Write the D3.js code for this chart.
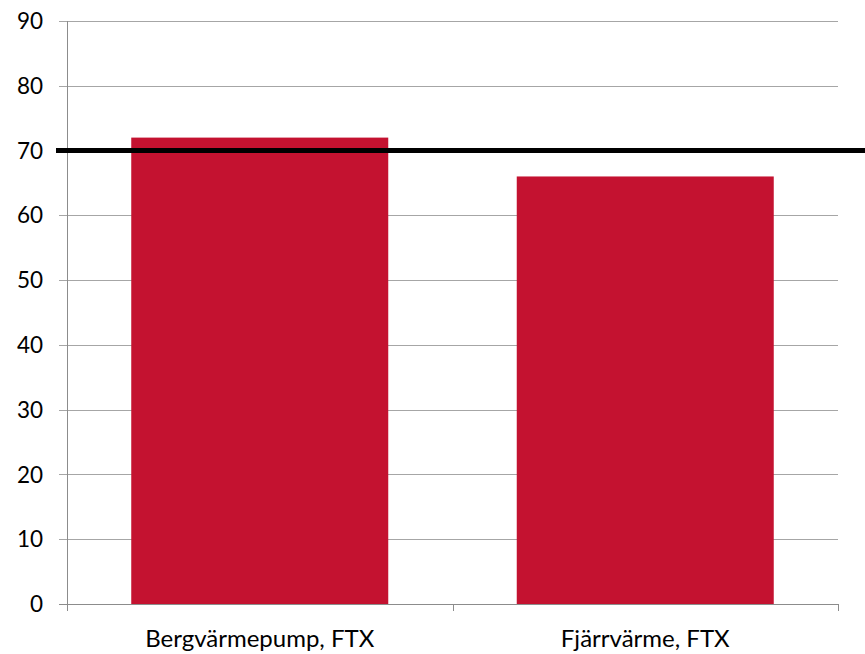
<!DOCTYPE html>
<html>
<head>
<meta charset="utf-8">
<script src="https://cdn.jsdelivr.net/npm/d3@7"></script>
<style>
  body { margin: 0; background: #fff; }
  text { font-family: Lato, "Open Sans", "Liberation Sans", sans-serif; fill: #000; }
</style>
</head>
<body>
<div id="chart"></div>
<script>
const categories = ["Bergvärmepump, FTX", "Fjärrvärme, FTX"];
const values = [72, 66];
const yTicks = [0, 10, 20, 30, 40, 50, 60, 70, 80, 90];
const limitValue = 70;

const W = 865, H = 654;
const margin = {top: 21, right: 27, bottom: 50, left: 67};
const width = W - margin.left - margin.right,
    height = H - margin.top - margin.bottom;

const svg = d3.select("#chart").append("svg")
    .attr("width", W)
    .attr("height", H);
const g = svg.append("g")
    .attr("transform", `translate(${margin.left},${margin.top})`);

const x = d3.scaleBand()
    .domain(categories)
    .range([0, width])
    .paddingInner(1 / 3)
    .paddingOuter(1 / 6);

const y = d3.scaleLinear()
    .domain([0, 90])
    .range([height, 0]);

// gridlines + left ticks
g.selectAll(".grid")
    .data(yTicks)
    .enter().append("line")
    .attr("x1", -8)
    .attr("x2", width)
    .attr("y1", d => Math.round(y(d)) + 0.5)
    .attr("y2", d => Math.round(y(d)) + 0.5)
    .attr("stroke", d => d === 0 ? "#8c8c8c" : "#a6a6a6")
    .attr("stroke-width", 1);

g.selectAll(".ylab")
    .data(yTicks)
    .enter().append("text")
    .attr("x", -24)
    .attr("y", d => y(d))
    .attr("dy", "0.36em")
    .attr("text-anchor", "end")
    .style("font-size", "22.5px")
    .text(d => d);

// y axis line
g.append("line")
    .attr("x1", 0.5).attr("x2", 0.5)
    .attr("y1", 0).attr("y2", height)
    .attr("stroke", "#8c8c8c");

// category boundary ticks
g.selectAll(".xtick")
    .data(d3.range(categories.length + 1))
    .enter().append("line")
    .attr("x1", d => Math.round(d * width / categories.length) + 0.5)
    .attr("x2", d => Math.round(d * width / categories.length) + 0.5)
    .attr("y1", height)
    .attr("y2", height + 7)
    .attr("stroke", "#8c8c8c");

// bars
g.selectAll(".bar")
    .data(values)
    .enter().append("rect")
    .attr("x", (d, i) => x(categories[i]))
    .attr("y", d => y(d))
    .attr("width", x.bandwidth())
    .attr("height", d => height - y(d))
    .attr("fill", "#c41230");

// category labels
g.selectAll(".xlab")
    .data(categories)
    .enter().append("text")
    .attr("x", d => x(d) + x.bandwidth() / 2)
    .attr("y", height + 43)
    .attr("text-anchor", "middle")
    .style("font-size", "24px")
    .text(d => d);

// limit line at 70
svg.append("line")
    .attr("x1", 56)
    .attr("x2", W)
    .attr("y1", margin.top + y(limitValue))
    .attr("y2", margin.top + y(limitValue))
    .attr("stroke", "#000")
    .attr("stroke-width", 5);
</script>
</body>
</html>
